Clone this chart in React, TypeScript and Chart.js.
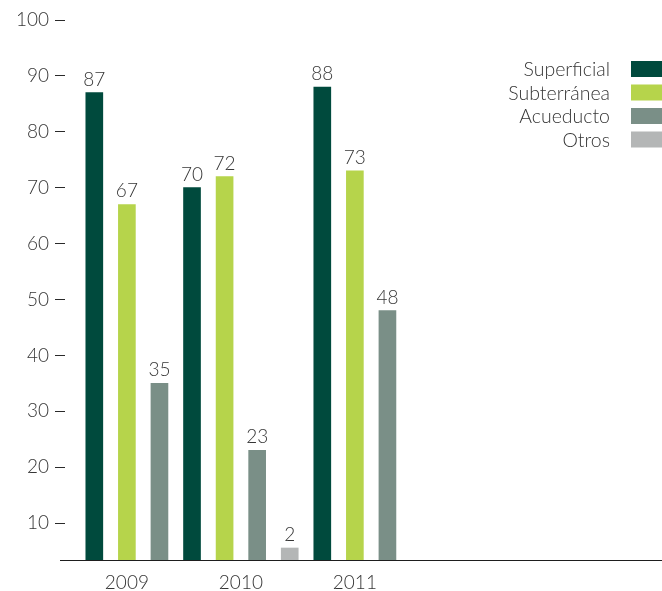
import React, { useEffect, useRef } from 'react';
import { Chart, registerables } from 'chart.js';

Chart.register(...registerables);

const years = ['2009', '2010', '2011'];
const seriesNames = ['Superficial', 'Subterránea', 'Acueducto', 'Otros'];
const superficial: (number | null)[] = [87, 70, 88];
const subterranea: (number | null)[] = [67, 72, 73];
const acueducto: (number | null)[] = [35, 23, 48];
const otros: (number | null)[] = [null, 2, null];
const yTickValues = [10, 20, 30, 40, 50, 60, 70, 80, 90, 100];
const seriesColors = ['#004a3d', '#b6d44b', '#7a8f87', '#b4b6b6'];

const FONT = 'Lato, "Open Sans", "DejaVu Sans", sans-serif';
const TEXT = '#363636';

const seriesValues = [superficial, subterranea, acueducto, otros];

// Each non-empty value gets its own consecutive slot along the x axis
function buildSlots() {
  let slot = 0;
  const points: { x: number; y: number }[][] = seriesValues.map(() => []);
  const centers: number[] = [];
  years.forEach((_, yi) => {
    const used: number[] = [];
    seriesValues.forEach((vals, si) => {
      const v = vals[yi];
      if (v === null || v === undefined) return;
      slot += 1;
      points[si].push({ x: slot, y: v });
      used.push(slot);
    });
    centers.push(used.reduce((a, b) => a + b, 0) / used.length);
  });
  return { points, centers };
}

const valueLabels = {
  id: 'valueLabels',
  afterDatasetsDraw(chart: any) {
    const ctx = chart.ctx;
    ctx.save();
    ctx.font = `300 19px ${FONT}`;
    ctx.fillStyle = TEXT;
    ctx.textAlign = 'center';
    ctx.textBaseline = 'alphabetic';
    chart.data.datasets.forEach((ds: any, i: number) => {
      const meta = chart.getDatasetMeta(i);
      meta.data.forEach((el: any, j: number) => {
        const v = ds.data[j].y;
        ctx.fillText(String(v), el.x, el.y - 7);
      });
    });
    ctx.restore();
  },
};

const baseline = {
  id: 'baseline',
  afterDatasetsDraw(chart: any) {
    const { ctx, chartArea } = chart;
    ctx.save();
    ctx.strokeStyle = '#1e1e1e';
    ctx.lineWidth = 1;
    ctx.beginPath();
    ctx.moveTo(chartArea.left - 5, chartArea.bottom + 0.5);
    ctx.lineTo(chartArea.right, chartArea.bottom + 0.5);
    ctx.stroke();
    ctx.restore();
  },
};

const sideLegend = {
  id: 'sideLegend',
  afterDraw(chart: any) {
    const { ctx, chartArea } = chart;
    const boxW = 31;
    const boxH = 16;
    const boxX = chartArea.right - boxW;
    const textRight = boxX - 21;
    ctx.save();
    ctx.font = `300 19.5px ${FONT}`;
    ctx.textAlign = 'right';
    ctx.textBaseline = 'alphabetic';
    chart.data.datasets.forEach((ds: any, i: number) => {
      const top = 61 + i * 23.5;
      ctx.fillStyle = ds.backgroundColor;
      ctx.fillRect(boxX, top, boxW, boxH);
      ctx.fillStyle = TEXT;
      ctx.fillText(ds.label, textRight, top + boxH - 1);
    });
    ctx.restore();
  },
};

export default function App() {
  const canvasRef = useRef<HTMLCanvasElement | null>(null);

  useEffect(() => {
    document.body.style.margin = '0';
    const canvas = canvasRef.current;
    if (!canvas) return;
    const { points, centers } = buildSlots();

    const chart = new Chart(canvas, {
      type: 'bar',
      data: {
        datasets: seriesNames.map((name, i) => ({
          label: name,
          data: points[i],
          backgroundColor: seriesColors[i],
          borderWidth: 0,
          barThickness: 17,
          grouped: false,
          minBarLength: 12,
          clip: 0,
        })),
      } as any,
      options: {
        animation: false,
        responsive: false,
        maintainAspectRatio: false,
        events: [],
        layout: { padding: { top: 20, right: 0, bottom: 0, left: 0 } },
        plugins: {
          legend: { display: false },
          tooltip: { enabled: false },
        },
        scales: {
          x: {
            type: 'linear',
            offset: false,
            min: 0.1,
            max: 18.43,
            grid: { display: false, drawTicks: false, offset: false },
            border: { display: false },
            afterBuildTicks: (scale: any) => {
              scale.ticks = centers.map((v) => ({ value: v }));
            },
            afterFit: (scale: any) => {
              scale.height = 31;
            },
            ticks: {
              autoSkip: false,
              maxRotation: 0,
              minRotation: 0,
              padding: 11,
              color: TEXT,
              font: { family: FONT, size: 19, weight: 300 as any },
              callback: (_v: any, i: number) => years[i],
            },
          },
          y: {
            type: 'linear',
            min: 3.4,
            max: 100,
            afterBuildTicks: (scale: any) => {
              scale.ticks = yTickValues.map((v) => ({ value: v }));
            },
            afterFit: (scale: any) => {
              scale.width = 65;
            },
            grid: {
              drawOnChartArea: false,
              drawTicks: true,
              tickLength: 10,
              color: '#2a2a2a',
              lineWidth: 1,
            },
            border: { display: false },
            ticks: {
              padding: 6,
              color: TEXT,
              font: { family: FONT, size: 19, weight: 300 as any },
            },
          },
        },
      } as any,
      plugins: [valueLabels, baseline, sideLegend],
    });

    return () => chart.destroy();
  }, []);

  return (
    <div style={{ width: 662, height: 591 }}>
      <canvas ref={canvasRef} width={662} height={591} style={{ display: 'block' }} />
    </div>
  );
}
